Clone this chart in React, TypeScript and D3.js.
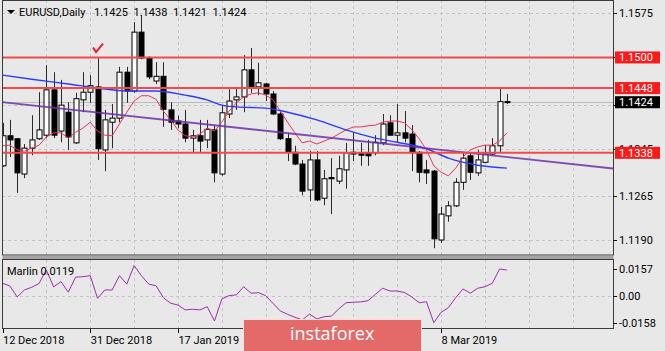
import React, { useRef, useEffect } from "react";
import * as d3 from "d3";

// EURUSD daily candles, 12 Dec 2018 .. 21 Mar 2019
const opens = [
  1.1316, 1.1367, 1.1362, 1.1302, 1.1346, 1.1362, 1.1368, 1.1445, 1.1375, 1.1407,
  1.1355, 1.1428, 1.1441, 1.1450, 1.1343, 1.1390, 1.1397, 1.1475, 1.1443, 1.1543,
  1.1499, 1.1460, 1.1468, 1.1411, 1.1392, 1.1387, 1.1363, 1.1367, 1.1360, 1.1377,
  1.1302, 1.1404, 1.1428, 1.1433, 1.1479, 1.1450, 1.1455, 1.1438, 1.1404, 1.1362,
  1.1339, 1.1319, 1.1275, 1.1326, 1.1261, 1.1296, 1.1290, 1.1309, 1.1339, 1.1338,
  1.1338, 1.1338, 1.1355, 1.1389, 1.1368, 1.1372, 1.1370, 1.1339, 1.1309, 1.1307,
  1.1190, 1.1231, 1.1248, 1.1288, 1.1333, 1.1304, 1.1322, 1.1336, 1.1350, 1.1425,
];
const highs = [
  1.1389, 1.1394, 1.1363, 1.1353, 1.1402, 1.1441, 1.1487, 1.1475, 1.1462, 1.1424,
  1.1440, 1.1475, 1.1470, 1.1499, 1.1411, 1.1421, 1.1484, 1.1484, 1.1560, 1.1572,
  1.1502, 1.1492, 1.1492, 1.1424, 1.1401, 1.1411, 1.1377, 1.1394, 1.1394, 1.1384,
  1.1419, 1.1446, 1.1450, 1.1504, 1.1516, 1.1491, 1.1457, 1.1443, 1.1411, 1.1372,
  1.1350, 1.1326, 1.1341, 1.1341, 1.1309, 1.1329, 1.1333, 1.1355, 1.1372, 1.1355,
  1.1360, 1.1368, 1.1404, 1.1402, 1.1421, 1.1409, 1.1385, 1.1341, 1.1326, 1.1309,
  1.1246, 1.1256, 1.1295, 1.1339, 1.1339, 1.1343, 1.1351, 1.1363, 1.1448, 1.1438,
];
const lows = [
  1.1314, 1.1331, 1.1270, 1.1295, 1.1334, 1.1360, 1.1363, 1.1363, 1.1356, 1.1343,
  1.1353, 1.1407, 1.1423, 1.1326, 1.1307, 1.1346, 1.1390, 1.1423, 1.1440, 1.1497,
  1.1463, 1.1455, 1.1382, 1.1377, 1.1380, 1.1356, 1.1339, 1.1338, 1.1346, 1.1288,
  1.1299, 1.1397, 1.1411, 1.1407, 1.1440, 1.1436, 1.1426, 1.1402, 1.1360, 1.1324,
  1.1317, 1.1266, 1.1256, 1.1256, 1.1249, 1.1234, 1.1285, 1.1277, 1.1324, 1.1316,
  1.1316, 1.1334, 1.1351, 1.1367, 1.1356, 1.1356, 1.1307, 1.1288, 1.1285, 1.1176,
  1.1185, 1.1221, 1.1246, 1.1275, 1.1292, 1.1299, 1.1321, 1.1334, 1.1338, 1.1421,
];
const closes = [
  1.1367, 1.1360, 1.1304, 1.1346, 1.1360, 1.1377, 1.1445, 1.1368, 1.1419, 1.1365,
  1.1430, 1.1441, 1.1452, 1.1345, 1.1394, 1.1397, 1.1475, 1.1443, 1.1543, 1.1499,
  1.1467, 1.1468, 1.1412, 1.1390, 1.1387, 1.1363, 1.1367, 1.1358, 1.1378, 1.1304,
  1.1406, 1.1426, 1.1433, 1.1479, 1.1450, 1.1457, 1.1438, 1.1404, 1.1362, 1.1339,
  1.1319, 1.1273, 1.1326, 1.1258, 1.1294, 1.1294, 1.1311, 1.1338, 1.1336, 1.1334,
  1.1333, 1.1356, 1.1387, 1.1368, 1.1372, 1.1363, 1.1339, 1.1305, 1.1304, 1.1192,
  1.1234, 1.1248, 1.1288, 1.1329, 1.1305, 1.1326, 1.1336, 1.1350, 1.1425, 1.1424,
];

// short moving average (red), one value per bar
const maRed = [
  1.1350, 1.1351, 1.1343, 1.1341, 1.1346, 1.1351, 1.1365, 1.1372, 1.1372, 1.1363,
  1.1373, 1.1380, 1.1390, 1.1375, 1.1368, 1.1367, 1.1387, 1.1407, 1.1426, 1.1435,
  1.1435, 1.1429, 1.1409, 1.1394, 1.1377, 1.1367, 1.1365, 1.1370, 1.1380, 1.1375,
  1.1390, 1.1409, 1.1423, 1.1433, 1.1438, 1.1440, 1.1436, 1.1428, 1.1409, 1.1390,
  1.1372, 1.1355, 1.1358, 1.1353, 1.1358, 1.1363, 1.1370, 1.1377, 1.1382, 1.1382,
  1.1384, 1.1385, 1.1390, 1.1392, 1.1392, 1.1389, 1.1377, 1.1362, 1.1343, 1.1316,
  1.1305, 1.1299, 1.1312, 1.1331, 1.1343, 1.1348, 1.1351, 1.1351, 1.1358, 1.1372,
];

// long moving average (blue), read at these bars
const maBlueBars = [0, 4, 9, 13, 17, 21, 25, 28, 30, 32, 36, 39, 43, 47, 51, 54, 58, 61, 65, 69];
const maBlueVals = [
  1.1470, 1.1463, 1.1455, 1.1448, 1.1443, 1.1443, 1.1436, 1.1428, 1.1419, 1.1416,
  1.1414, 1.1407, 1.1394, 1.1377, 1.1363, 1.1356, 1.1345, 1.1329, 1.1317, 1.1312,
];

// Marlin oscillator, one value per bar
const marlin = [
  0.0073, 0.0058, -0.0007, 0.0034, 0.0050, 0.0072, 0.0151, 0.0052, 0.0083, 0.0021,
  0.0109, 0.0112, 0.0118, -0.0015, 0.0034, 0.0034, 0.0118, 0.0068, 0.0177, 0.0118,
  0.0068, 0.0059, -0.0011, -0.0044, -0.0054, -0.0083, -0.0079, -0.0083, -0.0064, -0.0148,
  -0.0019, 0.0001, 0.0005, 0.0053, 0.0015, 0.0018, 0.0001, -0.0044, -0.0089, -0.0109,
  -0.0126, -0.0142, -0.0107, -0.0136, -0.0123, -0.0119, -0.0077, -0.0041, -0.0038, -0.0036,
  -0.0029, 0.0008, 0.0044, 0.0028, 0.0028, 0.0019, -0.0007, -0.0041, -0.0035, -0.0158,
  -0.0097, -0.0070, -0.0011, 0.0040, 0.0015, 0.0044, 0.0053, 0.0073, 0.0157, 0.0151,
];

const levels = [1.15, 1.1448, 1.1338];
const levelLabels = ["1.1500", "1.1448", "1.1338"];
const bidPrice = 1.1424;
const trendBars = [0, 69];
const trendPrices = [1.1424, 1.1331];
const checkBar = 13;
const checkPrice = 1.1516;

// grid levels; only the labels not hidden behind the price boxes are written
const priceTicks = [1.1575, 1.15, 1.142, 1.1345, 1.1265, 1.119];
const priceTickLabels = [1.1575, 1.1345, 1.1265, 1.119];
const marlinTicks = [0.0157, 0, -0.0158];
const marlinTickLabels = ["0.0157", "0.00", "-0.0158"];
const dateBars = [0, 12, 24, 36, 48, 60];
// labels at bars 36 and 48 sit under the watermark
const dateLabelBars = [0, 12, 24, 60];
const dateLabels = ["12 Dec 2018", "31 Dec 2018", "17 Jan 2019", "8 Mar 2019"];

function App() {
  const svgRef = useRef(null);

  useEffect(() => {
    const svg = d3.select(svgRef.current);
    svg.selectAll("*").remove();

    const W = 665, H = 351;
    const left = 2, right = 613;
    const mainBottom = 255, indTop = 260, indBottom = 329;
    const font = "Roboto, 'DejaVu Sans', sans-serif";
    const bg = "#e8e8e8";
    const grid = "#c4c4c4";

    const x = d3.scaleLinear().domain([0, 60]).range([2.5, 441.1]);
    const y = d3.scaleLinear().domain([1.119, 1.1575]).range([240, 13.3]);
    const yi = d3.scaleLinear().domain([-0.0158, 0.0157]).range([322.7, 269]);

    svg.append("rect").attr("width", W).attr("height", H).attr("fill", bg);

    const defs = svg.append("defs");
    defs.append("clipPath").attr("id", "clipMain")
      .append("rect").attr("x", left).attr("y", 0).attr("width", right - left).attr("height", mainBottom);
    defs.append("clipPath").attr("id", "clipInd")
      .append("rect").attr("x", left).attr("y", indTop).attr("width", right - left).attr("height", indBottom - indTop);

    const main = svg.append("g").attr("clip-path", "url(#clipMain)");
    const ind = svg.append("g").attr("clip-path", "url(#clipInd)");

    // vertical grid every 6 bars
    const vBars = d3.range(6, 84, 6);
    [main, ind].forEach((g, k) => {
      g.selectAll("line.vg").data(vBars).join("line")
        .attr("x1", d => Math.round(x(d)) + 0.5).attr("x2", d => Math.round(x(d)) + 0.5)
        .attr("y1", k === 0 ? 0 : indTop).attr("y2", k === 0 ? mainBottom : indBottom)
        .attr("stroke", grid).attr("stroke-dasharray", "3,3");
    });

    // horizontal grid
    main.selectAll("line.hg").data(priceTicks).join("line")
      .attr("x1", left).attr("x2", right)
      .attr("y1", d => Math.round(y(d)) + 0.5).attr("y2", d => Math.round(y(d)) + 0.5)
      .attr("stroke", grid).attr("stroke-dasharray", "3,3");
    ind.append("line")
      .attr("x1", left).attr("x2", right)
      .attr("y1", Math.round(yi(0)) + 0.5).attr("y2", Math.round(yi(0)) + 0.5)
      .attr("stroke", grid).attr("stroke-dasharray", "3,3");

    // bid line
    main.append("line")
      .attr("x1", left).attr("x2", right)
      .attr("y1", Math.round(y(bidPrice)) + 0.5).attr("y2", Math.round(y(bidPrice)) + 0.5)
      .attr("stroke", "#bcbcbc");

    // candles
    const bars = d3.range(opens.length);
    main.selectAll("line.wick").data(bars).join("line")
      .attr("x1", i => Math.round(x(i)) + 0.5).attr("x2", i => Math.round(x(i)) + 0.5)
      .attr("y1", i => y(highs[i])).attr("y2", i => y(lows[i]))
      .attr("stroke", "#2a2a2a");
    main.selectAll("rect.body").data(bars).join("rect")
      .attr("x", i => Math.round(x(i)) - 2)
      .attr("y", i => y(Math.max(opens[i], closes[i])))
      .attr("width", 5)
      .attr("height", i => Math.max(1, Math.abs(y(opens[i]) - y(closes[i]))))
      .attr("fill", i => (closes[i] >= opens[i] ? "#ffffff" : "#000000"))
      .attr("stroke", "#000000").attr("stroke-width", 1);

    // moving averages
    main.append("path").datum(bars)
      .attr("d", d3.line().x(i => x(i)).y(i => y(maRed[i])))
      .attr("fill", "none").attr("stroke", "#e8345a").attr("stroke-width", 1);
    main.append("path").datum(maBlueBars.map((b, k) => [b, maBlueVals[k]]))
      .attr("d", d3.line().curve(d3.curveMonotoneX).x(d => x(d[0])).y(d => y(d[1])))
      .attr("fill", "none").attr("stroke", "#2c3cff").attr("stroke-width", 1.4);

    // trendline (ray to both edges)
    const slope = (trendPrices[1] - trendPrices[0]) / (trendBars[1] - trendBars[0]);
    const b0 = x.invert(0), b1 = x.invert(right);
    main.append("line")
      .attr("x1", x(b0)).attr("y1", y(trendPrices[0] + slope * (b0 - trendBars[0])))
      .attr("x2", x(b1)).attr("y2", y(trendPrices[0] + slope * (b1 - trendBars[0])))
      .attr("stroke", "#6c30a8").attr("stroke-width", 1.8).attr("stroke-opacity", 0.85);

    // horizontal levels
    main.selectAll("line.lvl").data(levels).join("line")
      .attr("x1", left).attr("x2", right)
      .attr("y1", d => y(d)).attr("y2", d => y(d))
      .attr("stroke", "#f24a4a").attr("stroke-width", 2);

    // check mark
    const cx = x(checkBar), cy = y(checkPrice);
    main.append("path")
      .attr("d", `M${cx - 4.5},${cy - 0.5} L${cx - 1.5},${cy + 4} L${cx + 5.5},${cy - 4.5}`)
      .attr("fill", "none").attr("stroke", "#f02020").attr("stroke-width", 2);

    // Marlin line
    ind.append("path").datum(bars)
      .attr("d", d3.line().x(i => x(i)).y(i => yi(marlin[i])))
      .attr("fill", "none").attr("stroke", "#a02cb0").attr("stroke-width", 1);

    // frames
    svg.append("rect").attr("x", left + 0.5).attr("y", 0.5)
      .attr("width", right - left).attr("height", mainBottom - 0.5)
      .attr("fill", "none").attr("stroke", "#3a3a3a");
    svg.append("rect").attr("x", left + 0.5).attr("y", 256).attr("width", right - left).attr("height", 3.5).attr("fill", "#a4a4a4");
    svg.append("rect").attr("x", left + 0.5).attr("y", indTop - 0.5)
      .attr("width", right - left).attr("height", indBottom - indTop)
      .attr("fill", "none").attr("stroke", "#3a3a3a");

    // price axis
    const axisText = (sel) => sel.attr("font-family", font).attr("font-size", 11).attr("fill", "#000");
    svg.selectAll("line.ptick").data(priceTicks).join("line")
      .attr("x1", right).attr("x2", right + 4)
      .attr("y1", d => Math.round(y(d)) + 0.5).attr("y2", d => Math.round(y(d)) + 0.5)
      .attr("stroke", "#000");
    svg.selectAll("text.plab").data(priceTickLabels).join("text")
      .attr("x", 619).attr("y", d => y(d) + 4).call(axisText)
      .text(d => d.toFixed(4));

    // level price boxes
    const boxes = levels.map((d, k) => ({ v: d, t: levelLabels[k], c: "#ff1a1a" }))
      .concat([{ v: bidPrice, t: bidPrice.toFixed(4), c: "#000000" }]);
    const bg2 = svg.selectAll("g.box").data(boxes).join("g");
    bg2.append("rect").attr("x", 615).attr("y", d => y(d.v) - 6).attr("width", 45).attr("height", 12).attr("fill", d => d.c);
    bg2.append("text").attr("x", 619).attr("y", d => y(d.v) + 4).call(axisText).attr("fill", "#fff").text(d => d.t);

    // Marlin axis
    svg.selectAll("line.mtick").data(marlinTicks).join("line")
      .attr("x1", right).attr("x2", right + 4)
      .attr("y1", d => Math.round(yi(d)) + 0.5).attr("y2", d => Math.round(yi(d)) + 0.5)
      .attr("stroke", "#000");
    svg.selectAll("text.mlab").data(marlinTicks).join("text")
      .attr("x", 619).attr("y", d => yi(d) + 4).call(axisText)
      .text((d, k) => marlinTickLabels[k]);

    // date axis
    svg.selectAll("line.dtick").data(dateBars).join("line")
      .attr("x1", d => Math.round(x(d)) + 0.5).attr("x2", d => Math.round(x(d)) + 0.5)
      .attr("y1", indBottom).attr("y2", indBottom + 4)
      .attr("stroke", "#000");
    svg.selectAll("text.dlab").data(dateLabelBars).join("text")
      .attr("x", d => x(d) + 0.5).attr("y", 344).call(axisText)
      .text((d, k) => dateLabels[k]);

    // header
    svg.append("path").attr("d", "M7,10 L15,10 L11,14 Z").attr("fill", "#000");
    svg.append("text").attr("x", 19).attr("y", 16).call(axisText).text("EURUSD,Daily");
    const last = opens.length - 1;
    const ohlc = [opens[last], highs[last], lows[last], closes[last]];
    svg.selectAll("text.ohlc").data(ohlc).join("text")
      .attr("x", (d, k) => 94 + k * 39.5).attr("y", 16).call(axisText)
      .text(d => d.toFixed(4));
    svg.append("text").attr("x", 7).attr("y", 275).call(axisText).text("Marlin 0.0119");

    // watermark
    svg.append("rect").attr("x", 243.5).attr("y", 319.5).attr("width", 178).attr("height", 40)
      .attr("fill", "#e46a6a").attr("stroke", "#f3dede");
    svg.append("text").attr("x", 290).attr("y", 340)
      .attr("font-family", "'Open Sans', sans-serif").attr("font-size", 18).attr("fill", "#fff")
      .text("instaforex");
  }, []);

  return (
    <div style={{ position: "fixed", left: 0, top: 0 }}>
      <svg ref={svgRef} width={665} height={351} style={{ display: "block" }}></svg>
    </div>
  );
}

export default App;
